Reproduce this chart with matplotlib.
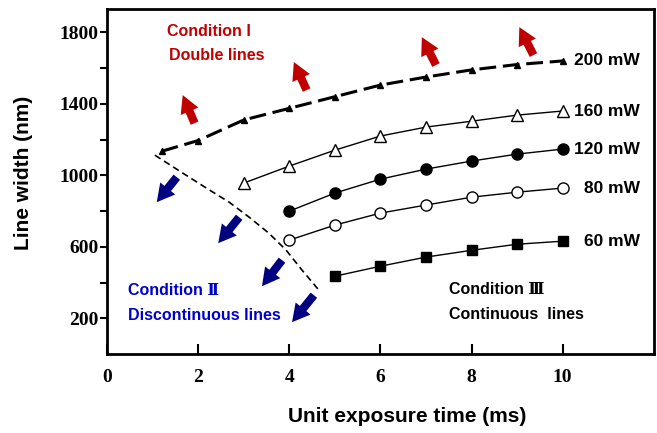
import matplotlib
matplotlib.use("Agg")
import matplotlib.pyplot as plt

# line width (nm) vs unit exposure time (ms) for each laser power
x_200 = [1.2, 2, 3, 4, 5, 6, 7, 8, 9, 10]
y_200 = [1135, 1195, 1310, 1375, 1440, 1505, 1550, 1590, 1620, 1640]
x_160 = [3, 4, 5, 6, 7, 8, 9, 10]
y_160 = [957, 1052, 1141, 1220, 1270, 1303, 1337, 1360]
x_120 = [4, 5, 6, 7, 8, 9, 10]
y_120 = [800, 901, 979, 1035, 1080, 1119, 1147]
x_80 = [4, 5, 6, 7, 8, 9, 10]
y_80 = [638, 722, 789, 834, 878, 906, 929]
x_60 = [5, 6, 7, 8, 9, 10]
y_60 = [436, 492, 543, 581, 615, 632]
power_labels = ["200 mW", "160 mW", "120 mW", "80 mW", "60 mW"]

# boundary between condition I/II regions (dashed curve)
bound_x = [1.05, 1.66, 2.18, 2.68, 3.12, 3.55, 3.93, 4.28, 4.65]
bound_y = [1113, 1013, 929, 850, 766, 677, 582, 470, 358]

# arrows: (tail, tip)
red_arrows = [((1.92, 1292), (1.66, 1449)), ((4.38, 1477), (4.10, 1634)),
              ((7.22, 1617), (6.91, 1773)), ((9.36, 1673), (9.05, 1829))]
blue_arrows = [((1.53, 990), (1.09, 850)), ((2.90, 766), (2.44, 621)),
               ((3.84, 526), (3.40, 380)), ((4.54, 330), (4.06, 179))]

sans = ["Liberation Sans", "DejaVu Sans"]
roman = ["Liberation Sans", "DejaVu Serif"]

fig = plt.figure(figsize=(6.57, 4.33), dpi=100)
ax = fig.add_axes([0.163, 0.182, 0.832, 0.797])

ax.plot(x_200, y_200, color="black", lw=2.2, dashes=(5.5, 2.2),
        marker="^", ms=5, mfc="black", mec="black")
ax.plot(x_160, y_160, color="black", lw=1, marker="^", ms=8, mfc="white", mec="black", mew=1)
ax.plot(x_120, y_120, color="black", lw=1, marker="o", ms=8, mfc="black", mec="black")
ax.plot(x_80, y_80, color="black", lw=1, marker="o", ms=8, mfc="white", mec="black", mew=1)
ax.plot(x_60, y_60, color="black", lw=1, marker="s", ms=7, mfc="black", mec="black")

ax.plot(bound_x, bound_y, color="black", lw=1.2, dashes=(4, 2.5))

for lab, ys in zip(power_labels, [y_200, y_160, y_120, y_80, y_60]):
    ax.text(11.69, ys[-1], lab, ha="right", va="center", fontsize=12.5,
            fontweight="bold", family=sans)


def block_arrow(tail, tip, color):
    ax.annotate("", xy=tip, xytext=tail,
                arrowprops=dict(arrowstyle="simple,head_length=0.55,head_width=0.6,tail_width=0.26",
                                mutation_scale=23, color=color, shrinkA=0, shrinkB=0, lw=0))
    # small white highlight in the shaft
    hx0 = tail[0] + (tip[0] - tail[0]) * 0.42
    hy0 = tail[1] + (tip[1] - tail[1]) * 0.42
    hx1 = tail[0] + (tip[0] - tail[0]) * 0.55
    hy1 = tail[1] + (tip[1] - tail[1]) * 0.55
    ax.plot([hx0, hx1], [hy0, hy1], color="white", lw=0.9, solid_capstyle="round")


for t, h in red_arrows:
    block_arrow(t, h, "#c00000")
for t, h in blue_arrows:
    block_arrow(t, h, "#000080")

ax.text(1.31, 1807, "Condition I", color="#c00000", fontsize=11.5, fontweight="bold",
        family=sans, va="center")
ax.text(1.37, 1673, "Double lines", color="#c00000", fontsize=11.5, fontweight="bold",
        family=sans, va="center")
ax.text(0.46, 358, "Condition \u2161", color="#0000cc", fontsize=11.5, fontweight="bold",
        family=roman, va="center")
ax.text(0.46, 218, "Discontinuous lines", color="#0000cc", fontsize=11.5, fontweight="bold",
        family=sans, va="center")
ax.text(7.50, 364, "Condition \u2162", color="black", fontsize=11.5, fontweight="bold",
        family=roman, va="center")
ax.text(7.50, 224, "Continuous  lines", color="black", fontsize=11.5, fontweight="bold",
        family=sans, va="center")

ax.set_xlim(0, 12)
ax.set_ylim(0, 1930)
ax.set_xticks([0, 2, 4, 6, 8, 10])
ax.set_xticklabels(["0", "2", "4", "6", "8", "10"])
yt = [200, 400, 600, 800, 1000, 1200, 1400, 1600, 1800]
ax.set_yticks(yt)
ax.set_yticklabels([str(v) if v % 400 == 200 else "" for v in yt])
for lab in ax.get_xticklabels() + ax.get_yticklabels():
    lab.set_family("Liberation Serif")
    lab.set_fontweight("bold")
    lab.set_fontsize(14)
ax.tick_params(axis="x", direction="in", length=7, width=1.5, pad=11)
ax.tick_params(axis="y", direction="out", length=5, width=1.5, pad=1)
for sp in ax.spines.values():
    sp.set_linewidth(2)

fig.text(407 / 657, 1 - 417 / 433, "Unit exposure time (ms)", ha="center", va="center",
         fontsize=15, fontweight="bold", family=sans)
fig.text(24 / 657, 1 - 173 / 433, "Line width (nm)", ha="center", va="center",
         rotation=90, fontsize=15, fontweight="bold", family=sans)

fig.savefig("out.png", dpi=100)
